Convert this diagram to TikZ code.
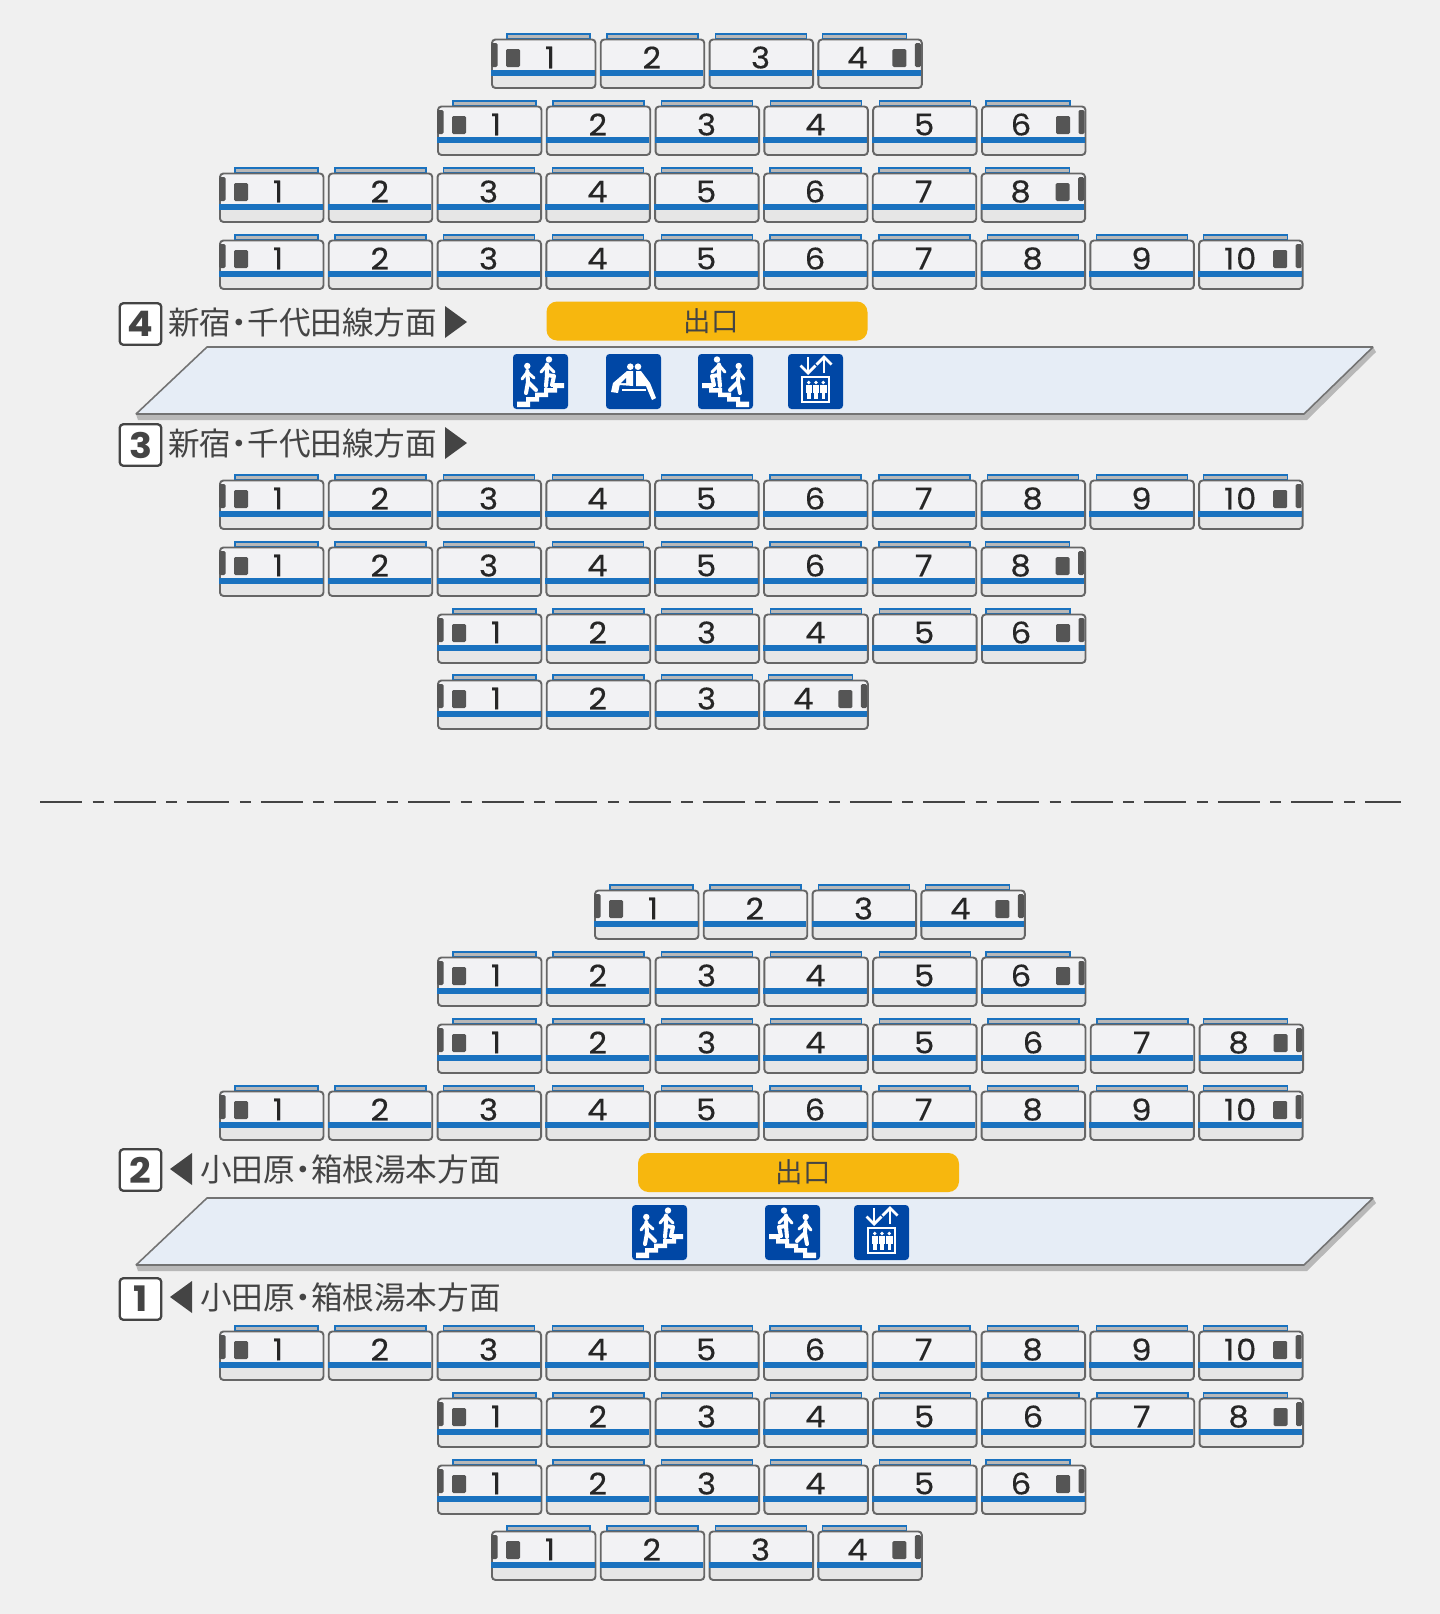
\documentclass[tikz,border=0pt]{standalone}
\usepackage{fontspec}
\usepackage{tikz}
\usetikzlibrary{positioning}
\setmainfont{Noto Sans CJK JP}
\newfontfamily\halfcjk[RawFeature=+halt]{Noto Sans CJK JP}
\newfontfamily\numfont[FakeBold=0.4,FakeStretch=1.08,LetterSpace=6]{Poppins}
\newfontfamily\boxfont[FakeStretch=1.08]{Poppins}

\definecolor{bgcol}{HTML}{F0F0F0}
\definecolor{carcol}{HTML}{F2F2F4}
\definecolor{lowcol}{HTML}{E6E6E6}
\definecolor{linecol}{HTML}{666666}
\definecolor{bluecol}{HTML}{1A72BF}
\definecolor{roofcol}{HTML}{B8B8B8}
\definecolor{markcol}{HTML}{555555}
\definecolor{platcol}{HTML}{E6EDF6}
\definecolor{exitcol}{HTML}{F7B70E}
\definecolor{signcol}{HTML}{0047A5}
\definecolor{textcol}{HTML}{444444}

% one row of cars: name, left edge, top edge, number of cars
\newcommand{\trainrow}[4]{
	\foreach \n in {1,...,#4} {
		\pgfmathsetmacro{\carx}{#2+(\n-1)*108.8}
		\pgfmathsetmacro{\roofa}{\n==1 ? \carx+16 : (\n==#4 ? \carx+5 : \carx+7)}
		\pgfmathsetmacro{\roofb}{\n==1 ? \carx+99 : (\n==#4 ? \carx+89 : \carx+98)}
		\pgfmathsetmacro{\numx}{\n==1 ? \carx+59 : (\n==10 ? \carx+42 : (\n==#4 ? \carx+40 : \carx+52))}
		\draw[carroof] (\roofa,#3-5) rectangle (\roofb,#3);
		\node[carbody] (#1c\n) at (\carx,#3-0.5) {};
		\fill[bluecol] (\carx,#3+31) rectangle (\carx+103.5,#3+37);
		\node[carnum] (#1n\n) at (\numx,#3+18.5) {\n};
		\ifnum\n=1
			\fill[carmark] (\carx+15,#3+10) rectangle (\carx+29,#3+28);
			\fill[carmark] (\carx,#3+4) rectangle (\carx+6.5,#3+28);
		\fi
		\ifnum\n=#4
			\fill[carmark] (\carx+75,#3+10) rectangle (\carx+89,#3+28);
			\fill[carmark] (\carx+97.5,#3+4) rectangle (\carx+103.5,#3+28);
		\fi
	}
}

\tikzset{
	stairsign/.pic={
		\fill[signcol,rounded corners=2] (0,0) rectangle (55,55);
		\fill[white] (4,53) -- (4,47.5) -- (13,47.5) -- (13,43) -- (22,43) -- (22,38.5) -- (31,38.5) -- (31,34) -- (40,34) -- (40,29) -- (51,29) -- (51,34) -- (44,34) -- (44,38.5) -- (35,38.5) -- (35,43) -- (26,43) -- (26,47.5) -- (17,47.5) -- (17,53) -- cycle;
		\fill[white] (14.3,12) circle (3.2);
		\fill[white] (36,5.5) circle (3.2);
		\draw[signline] (14.3,17) -- (15,28) -- (13,39) (15,28) -- (23,36);
		\draw[signarm] (9,25) -- (14.3,18) -- (21,24);
		\draw[signline] (34,10.5) -- (34,21) -- (33,32) (34,21) -- (41,22) -- (39,31);
		\draw[signarm] (28,18) -- (34,11) -- (41,18);
	},
	benchsign/.pic={
		\fill[signcol,rounded corners=2] (0,0) rectangle (55,55);
		\fill[white] (24.3,12.7) circle (3.3);
		\fill[white] (32,12.7) circle (3.3);
		\fill[white] (27,17) -- (21,17) -- (7,29) -- (5,38) -- (12,39) -- (13.7,31) -- (27,32) -- cycle;
		\fill[signcol] (15,29) -- (20,24) -- (20,29) -- cycle;
		\fill[white] (30,17) -- (35,17) -- (44,29) -- (50,44) -- (46,46) -- (40,32) -- (30,32) -- cycle;
		\fill[white] (16,35) rectangle (40,37);
	},
	liftsign/.pic={
		\fill[signcol,rounded corners=2] (0,0) rectangle (55,55);
		\draw[signarrow] (20,3) -- (20,18);
		\draw[signarrow] (12.5,11.5) -- (20,19) -- (27.5,11.5);
		\draw[signarrow] (36,19) -- (36,4);
		\draw[signarrow] (28.5,10.5) -- (36,3) -- (43.5,10.5);
		\draw[signcage] (14,23) rectangle (41,48);
		\foreach \p in {20.7,28,35.3} {
			\fill[white] (\p,28.5) circle (1.9);
			\fill[white] (\p-3.2,31) rectangle (\p+3.2,39);
			\fill[white] (\p-1.8,39) rectangle (\p+1.8,45);
		}
	},
}

\begin{document}
\begin{tikzpicture}[
		x=0.02cm, y=-0.02cm,
		carbody/.style={anchor=north west,draw=linecol,line width=1.1pt,fill=carcol,rounded corners=2pt,
			inner sep=0pt,minimum width=103.5*0.02cm,minimum height=48.5*0.02cm,
			path picture={
				\fill[lowcol] ([yshift=12.5*0.02cm]path picture bounding box.south west) rectangle (path picture bounding box.south east);
			}},
		carroof/.style={draw=bluecol,fill=roofcol,line width=0.8pt},
		carnum/.style={font=\numfont\fontsize{17}{17}\selectfont,text=black!85,inner sep=0pt},
		carmark/.style={markcol,rounded corners=0.8pt},
		numbox/.style={draw=textcol,line width=1.3pt,fill=white,rounded corners=2pt,inner sep=0pt,
			minimum size=41.5*0.02cm,font=\boxfont\bfseries\fontsize{20}{20}\selectfont,text=textcol},
		destlabel/.style={inner sep=0pt,anchor=west,font=\fontsize{18}{18}\selectfont,text=textcol},
		exitpill/.style={fill=exitcol,rounded corners=6pt,inner sep=0pt,minimum width=321*0.02cm,minimum height=39*0.02cm},
		exitlabel/.style={font=\fontsize{15.6}{15.6}\selectfont,text=textcol,inner sep=0pt},
		platform/.style={draw=black!55,line width=0.9pt,fill=platcol,line join=bevel},
		platshadow/.style={fill=roofcol},
		signline/.style={white,line width=2.3pt,line cap=round,line join=round},
		signarm/.style={white,line width=1.7pt,line cap=round,line join=round},
		signarrow/.style={white,line width=1.6pt,line cap=butt,line join=miter},
		signcage/.style={draw=white,line width=1.3pt},
		sepline/.style={draw=textcol,line width=1.3pt,dash pattern=on 23.9pt off 6pt on 6.3pt off 5.7pt}]

	\fill[bgcol] (0,0) rectangle (1440,1614);
	\useasboundingbox (0,0) rectangle (1440,1614);

	% upper half
	\trainrow{a}{491}{39}{4}
	\trainrow{b}{437}{106}{6}
	\trainrow{c}{219}{173}{8}
	\trainrow{d}{219}{240}{10}

	\node[numbox] (four) at (140.5,324) {4};
	\node[destlabel] (fourtext) at (168,322) {新宿{\halfcjk ・}千代田線方面};
	\fill[textcol] (445,306) -- (467,322) -- (445,338) -- cycle;
	\node[exitpill] (exitup) at (707,321) {};
	\node[exitlabel] (exituptext) at (711,321) {出口};

	\fill[platshadow] (138,420) -- (1307,420) -- (1376,352) -- (1373,347) -- (1304,414) -- (136,414) -- cycle;
	\draw[platform] (207,347) -- (1373,347) -- (1304,414) -- (136,414) -- cycle;
	\pic at (513,354) {stairsign};
	\pic at (606,354) {benchsign};
	\pic[xscale=-1] at (753,354) {stairsign};
	\pic at (788,354) {liftsign};

	\node[numbox] (three) at (140.5,445) {3};
	\node[destlabel] (threetext) at (168,443) {新宿{\halfcjk ・}千代田線方面};
	\fill[textcol] (445,427) -- (467,443) -- (445,459) -- cycle;

	\trainrow{e}{219}{480}{10}
	\trainrow{f}{219}{547}{8}
	\trainrow{g}{437}{614}{6}
	\trainrow{h}{437}{680}{4}

	\coordinate (sepleft) at (40,802);
	\coordinate (sepright) at (1401,802);
	\draw[sepline] (sepleft) -- (sepright);

	% lower half
	\trainrow{i}{594}{890}{4}
	\trainrow{j}{437}{957}{6}
	\trainrow{k}{437}{1024}{8}
	\trainrow{l}{219}{1091}{10}

	\node[numbox] (two) at (140.5,1170) {2};
	\fill[textcol] (192,1153) -- (170,1169) -- (192,1185) -- cycle;
	\node[destlabel] (twotext) at (200,1169) {小田原{\halfcjk ・}箱根湯本方面};
	\node[exitpill] (exitdown) at (798.5,1172.5) {};
	\node[exitlabel] (exitdowntext) at (803,1172.5) {出口};

	\fill[platshadow] (138,1271) -- (1307,1271) -- (1376,1203) -- (1373,1198) -- (1304,1265) -- (136,1265) -- cycle;
	\draw[platform] (207,1198) -- (1373,1198) -- (1304,1265) -- (136,1265) -- cycle;
	\pic at (632,1205) {stairsign};
	\pic[xscale=-1] at (820,1205) {stairsign};
	\pic at (854,1205) {liftsign};

	\node[numbox] (one) at (140.5,1299) {1};
	\fill[textcol] (192,1281) -- (170,1297) -- (192,1313) -- cycle;
	\node[destlabel] (onetext) at (200,1297) {小田原{\halfcjk ・}箱根湯本方面};

	\trainrow{m}{219}{1331}{10}
	\trainrow{n}{437}{1398}{8}
	\trainrow{o}{437}{1465}{6}
	\trainrow{p}{491}{1531}{4}
\end{tikzpicture}
\end{document}
